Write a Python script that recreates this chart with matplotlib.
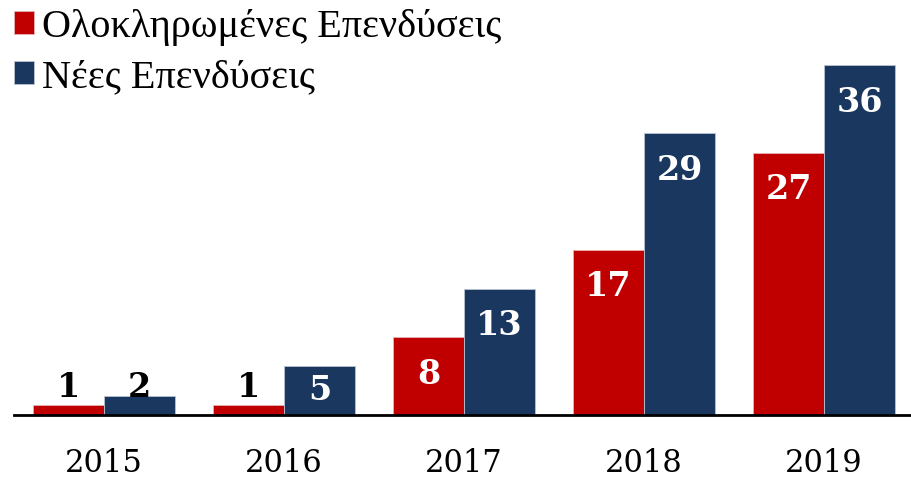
import numpy as np
import matplotlib.pyplot as plt

years = ['2015', '2016', '2017', '2018', '2019']
completed = [1, 1, 8, 17, 27]
new_inv = [2, 5, 13, 29, 36]
series_names = ['Ολοκληρωμένες Επενδύσεις', 'Νέες Επενδύσεις']

red = '#C00000'
navy = '#1A375F'

fig = plt.figure(figsize=(9.12, 4.8), dpi=100)
ax = fig.add_axes([14 / 912, 65 / 480, 900 / 912, 415 / 480])

x = np.arange(len(years))
w = 0.394
b1 = ax.bar(x - w / 2, completed, w, color=red, edgecolor='#e6b3b3', linewidth=0.6,
            label=series_names[0])
b2 = ax.bar(x + w / 2, new_inv, w, color=navy, edgecolor='#b9c3d1', linewidth=0.6,
            label=series_names[1])

ax.set_xlim(-0.5, 4.5)
ax.set_ylim(0, 42.7)

# value labels: inside the bar (white) unless the bar is too short
for bars, vals in ((b1, completed), (b2, new_inv)):
    for r, v in zip(bars, vals):
        cx = r.get_x() + r.get_width() / 2
        if v <= 2:
            ax.text(cx, 2.8, str(v), ha='center', va='center', color='black',
                    fontsize=24, fontweight='bold', family='DejaVu Serif')
        else:
            ax.text(cx, v - min(3.8, v / 2), str(v), ha='center', va='center',
                    color='white', fontsize=24, fontweight='bold', family='DejaVu Serif')

for s in ['top', 'right', 'left']:
    ax.spines[s].set_visible(False)
ax.spines['bottom'].set_linewidth(2)
ax.spines['bottom'].set_color('black')
ax.set_yticks([])
ax.set_xticks(x)
ax.set_xticklabels(years, fontsize=22, family='DejaVu Serif')
ax.tick_params(axis='x', length=0, pad=24)

ax.legend(loc='upper left', bbox_to_anchor=(14 / 912, 1 - 9 / 480), bbox_transform=fig.transFigure,
          frameon=False, prop={'family': 'Liberation Serif', 'size': 29},
          handlelength=0.5, handleheight=0.5, handletextpad=0.2,
          labelspacing=0.32, borderpad=0.0, borderaxespad=0.0)

fig.savefig('out.png', dpi=100)
